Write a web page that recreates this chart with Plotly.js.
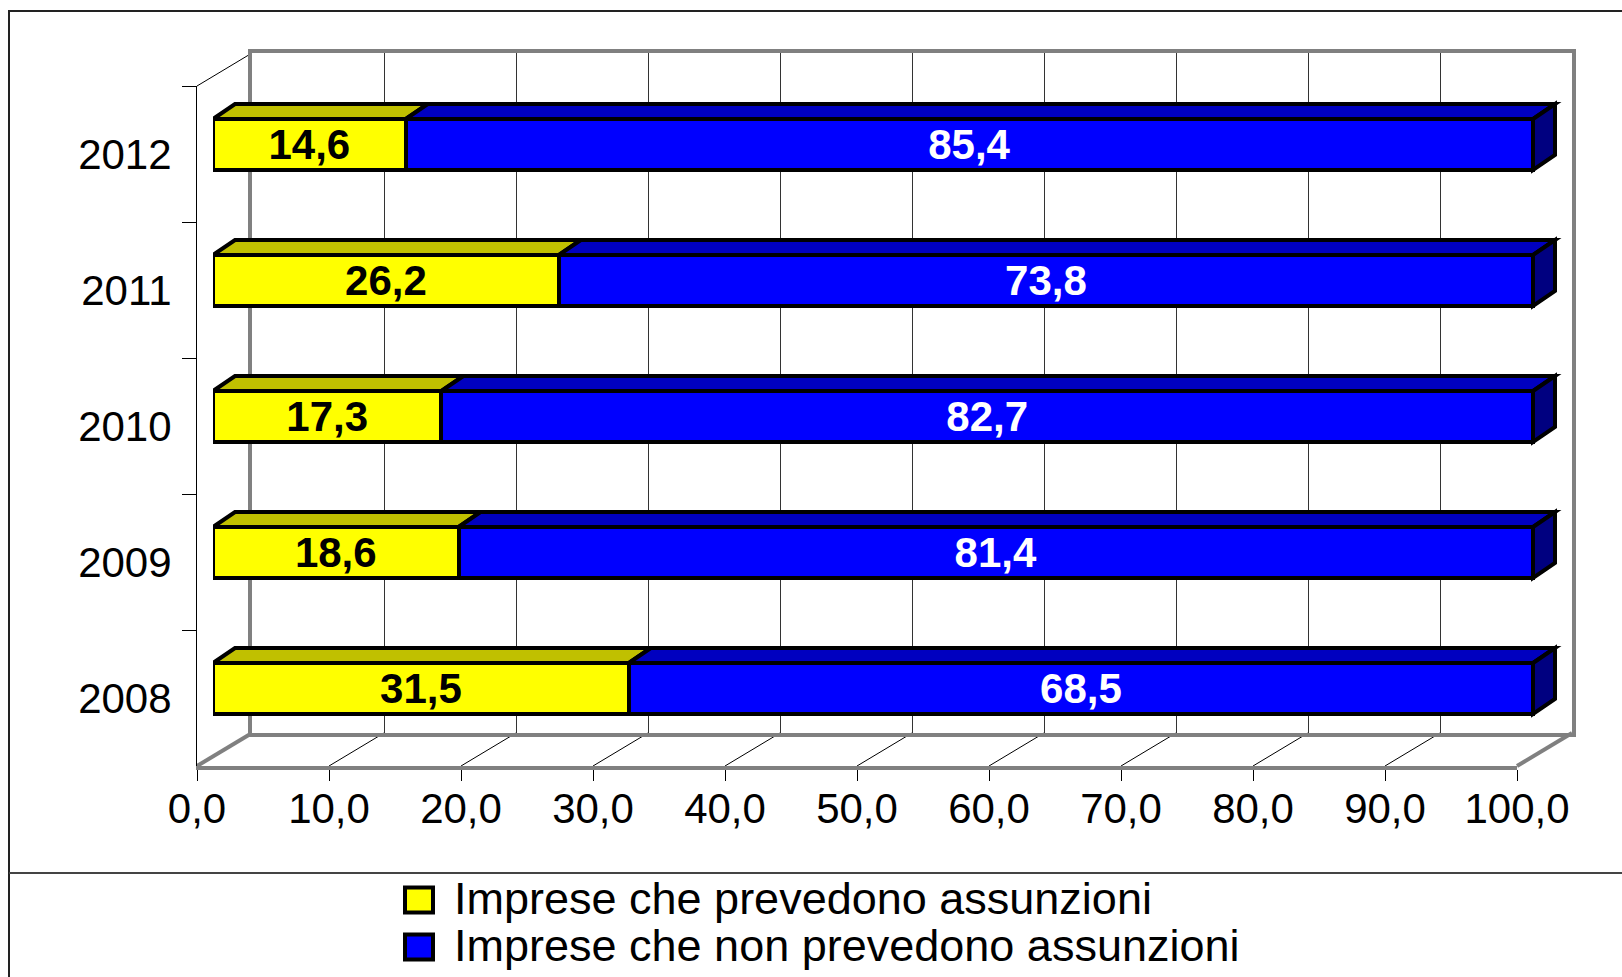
<!DOCTYPE html>
<html>
<head>
<meta charset="utf-8">
<script src="https://cdn.plot.ly/plotly-3.0.1.min.js"></script>
<style>
  html, body { margin: 0; padding: 0; background: #ffffff; }
  #chart { width: 1622px; height: 977px; }
</style>
</head>
<body>
<div id="chart"></div>
<script>
// ---------------- data ----------------
const years = ['2008', '2009', '2010', '2011', '2012'];
const hiring = [31.5, 18.6, 17.3, 26.2, 14.6];
const notHiring = [68.5, 81.4, 82.7, 73.8, 85.4];
const seriesNames = ['Imprese che prevedono assunzioni', 'Imprese che non prevedono assunzioni'];
const xTicks = [0, 10, 20, 30, 40, 50, 60, 70, 80, 90, 100];

// ---------------- styling / geometry ----------------
const W = 1622, H = 977;
const FONT = 'Liberation Sans, Arial, sans-serif';
const FRONT = { l: 197, r: 1517, t: 86, b: 766 };       // front plane of the plot box (px)
const S = (FRONT.r - FRONT.l) / 100;                    // px per x unit
const CAT = (FRONT.b - FRONT.t) / years.length;         // px per category
const WALL = { dx: 55, dy: 33 };                        // back wall offset (px)
const BAR = { dx: 16, dy: 9.5 };                        // bar front-face plane offset (px)
const DEPTH = { dx: 22, dy: 15 };                       // bar depth (px)
const BW = 51 / CAT;                                    // bar thickness (category units)
const XEXT = 104;                                       // bar axis range (room for side faces)

const series = [
  { name: seriesNames[0], values: hiring,    front: '#FFFF00', top: '#C0C000', side: '#A0A000', text: '#000000' },
  { name: seriesNames[1], values: notHiring, front: '#0000FF', top: '#0000C0', side: '#000080', text: '#FFFFFF' }
];

const px = v => v / W;             // x pixel -> paper
const py = v => 1 - v / H;         // y pixel -> paper
const fmt = v => v.toFixed(1).replace('.', ',');

// ---------------- traces ----------------
// invisible helper traces so the back wall and front axes subplots exist with their categories
const traces = [
  { type: 'scatter', mode: 'none', x: hiring, y: years, xaxis: 'x', yaxis: 'y',
    hoverinfo: 'skip', showlegend: false }
];
series.forEach(s => traces.push({
  type: 'bar', orientation: 'h',
  name: s.name,
  y: years, x: s.values,
  xaxis: 'x3', yaxis: 'y3',
  width: BW,
  marker: { color: s.front, line: { color: '#000000', width: 4 } },
  text: s.values.map(fmt),
  textposition: 'inside', insidetextanchor: 'middle', textangle: 0,
  constraintext: 'none',
  textfont: { family: FONT, size: 42, color: s.text, weight: 'bold' },
  hoverinfo: 'skip', showlegend: false
}));
traces.push({ type: 'scatter', mode: 'none', x: hiring, y: years, xaxis: 'x4', yaxis: 'y4',
  hoverinfo: 'skip', showlegend: false });

// ---------------- 3D faces of the bars (data coords of the bar axes) ----------------
const shapes = [];
const dX = DEPTH.dx / S, dY = DEPTH.dy / CAT;
years.forEach((yr, i) => {
  let start = 0;
  const yt = i + BW / 2, yb = i - BW / 2;
  series.forEach(s => {
    const x0 = start, x1 = start + s.values[i];
    shapes.push({ type: 'path', xref: 'x3', yref: 'y3', layer: 'above',
      path: `M${x0},${yt} L${x1},${yt} L${x1 + dX},${yt + dY} L${x0 + dX},${yt + dY} Z`,
      fillcolor: s.top, line: { color: '#000000', width: 4 } });
    start = x1;
  });
  const last = series[series.length - 1];
  shapes.push({ type: 'path', xref: 'x3', yref: 'y3', layer: 'above',
    path: `M${start},${yb} L${start},${yt} L${start + dX},${yt + dY} L${start + dX},${yb + dY} Z`,
    fillcolor: last.side, line: { color: '#000000', width: 4 } });
});

// ---------------- floor / side-wall frame (paper coords) ----------------
xTicks.forEach(k => {
  const edge = (k === xTicks[0] || k === xTicks[xTicks.length - 1]);
  const fx = FRONT.l + k * S;
  shapes.push({ type: 'line', xref: 'paper', yref: 'paper', layer: 'below',
    x0: px(fx), y0: py(FRONT.b), x1: px(fx + WALL.dx), y1: py(FRONT.b - WALL.dy),
    line: edge ? { color: '#808080', width: 4 } : { color: '#000000', width: 1 } });
});
shapes.push({ type: 'line', xref: 'paper', yref: 'paper', layer: 'below',
  x0: px(FRONT.l), y0: py(FRONT.t), x1: px(FRONT.l + WALL.dx), y1: py(FRONT.t - WALL.dy),
  line: { color: '#000000', width: 1 } });

// outer chart border and legend separator
shapes.push({ type: 'rect', xref: 'paper', yref: 'paper', layer: 'below',
  x0: px(9), x1: 1.05, y0: py(11), y1: -0.05, line: { color: '#222222', width: 2 } });
shapes.push({ type: 'line', xref: 'paper', yref: 'paper', layer: 'below',
  x0: px(9), x1: 1.05, y0: py(873), y1: py(873), line: { color: '#444444', width: 2 } });

// ---------------- custom legend ----------------
const annotations = [];
const LEG = { boxL: 405, boxR: 433, textX: 452, rows: [898, 945], half: 12.5 };
series.forEach((s, j) => {
  const cy = LEG.rows[j];
  shapes.push({ type: 'rect', xref: 'paper', yref: 'paper', layer: 'above',
    x0: px(LEG.boxL), x1: px(LEG.boxR), y0: py(cy - LEG.half + 2), y1: py(cy + LEG.half + 2),
    fillcolor: s.front, line: { color: '#000000', width: 4 } });
  annotations.push({ xref: 'paper', yref: 'paper', x: px(LEG.textX), y: py(cy),
    xanchor: 'left', yanchor: 'middle', showarrow: false, text: s.name,
    font: { family: FONT, size: 45, color: '#000000' } });
});

// ---------------- layout ----------------
const layout = {
  width: W, height: H,
  margin: { l: 0, r: 0, t: 0, b: 0 },
  paper_bgcolor: '#ffffff', plot_bgcolor: 'rgba(0,0,0,0)',
  separators: ',.',
  showlegend: false,
  barmode: 'stack',
  font: { family: FONT, color: '#000000' },
  // back wall
  xaxis: { domain: [px(FRONT.l + WALL.dx), px(FRONT.r + WALL.dx)], range: [0, 100],
    tick0: 0, dtick: 10, showgrid: true, gridcolor: '#333333', gridwidth: 1,
    showline: true, mirror: true, linecolor: '#808080', linewidth: 4,
    showticklabels: false, ticks: '', zeroline: false, anchor: 'y', fixedrange: true },
  yaxis: { domain: [py(FRONT.b - WALL.dy), py(FRONT.t - WALL.dy)], type: 'category',
    categoryorder: 'array', categoryarray: years, range: [-0.5, years.length - 0.5],
    showgrid: false, showline: true, mirror: true, linecolor: '#808080', linewidth: 4,
    showticklabels: false, ticks: '', zeroline: false, anchor: 'x', fixedrange: true },
  // bars plane
  xaxis3: { domain: [px(FRONT.l + BAR.dx), px(FRONT.l + BAR.dx + XEXT * S)], range: [0, XEXT],
    visible: false, anchor: 'y3', fixedrange: true },
  yaxis3: { domain: [py(FRONT.b - BAR.dy), py(FRONT.t - BAR.dy)], type: 'category',
    categoryorder: 'array', categoryarray: years, range: [-0.5, years.length - 0.5],
    visible: false, anchor: 'x3', fixedrange: true },
  // front axes
  xaxis4: { domain: [px(FRONT.l), px(FRONT.r)], range: [0, 100], tickvals: xTicks,
    tickformat: '.1f', ticks: 'outside', ticklen: 11, tickwidth: 1, tickcolor: '#000000',
    showline: true, linecolor: '#808080', linewidth: 4, showgrid: false, zeroline: false,
    ticklabelstandoff: -8,
    tickfont: { family: FONT, size: 42, color: '#000000' }, anchor: 'y4', fixedrange: true },
  yaxis4: { domain: [py(FRONT.b), py(FRONT.t)], type: 'category', categoryorder: 'array',
    categoryarray: years, range: [-0.5, years.length - 0.5], tickson: 'boundaries',
    ticks: 'outside', ticklen: 14, tickwidth: 1, tickcolor: '#000000',
    showline: true, linecolor: '#000000', linewidth: 1, showgrid: false, zeroline: false,
    ticklabelstandoff: 16,
    tickfont: { family: FONT, size: 42, color: '#000000' }, anchor: 'x4', fixedrange: true },
  shapes: shapes,
  annotations: annotations
};

Plotly.newPlot('chart', traces, layout, { staticPlot: true, displayModeBar: false });
</script>
</body>
</html>
